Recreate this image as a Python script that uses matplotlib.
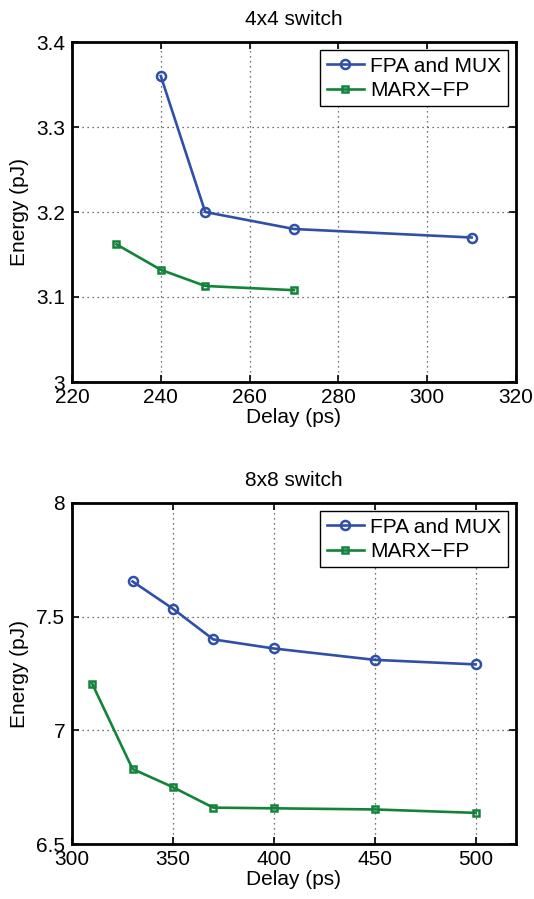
import matplotlib
matplotlib.use('Agg')
import matplotlib.pyplot as plt

plt.rc('font', family=['Liberation Sans', 'DejaVu Sans'], size=15)
plt.rc('axes', linewidth=2.0)

# 4x4 switch
d4_fpa = [240, 250, 270, 310]
e4_fpa = [3.36, 3.20, 3.18, 3.17]
d4_marx = [230, 240, 250, 270]
e4_marx = [3.162, 3.132, 3.113, 3.108]

# 8x8 switch
d8_fpa = [330, 350, 370, 400, 450, 500]
e8_fpa = [7.655, 7.535, 7.40, 7.36, 7.31, 7.29]
d8_marx = [310, 330, 350, 370, 400, 450, 500]
e8_marx = [7.205, 6.83, 6.75, 6.66, 6.657, 6.652, 6.637]

blue = '#3050a8'
green = '#13833a'

fig = plt.figure(figsize=(5.34, 8.99), dpi=100)
ax1 = fig.add_axes([72/534, 1-382/899, 444/534, 340/899])
ax2 = fig.add_axes([72/534, 1-844/899, 444/534, 341/899])

panels = [
    (ax1, d4_fpa, e4_fpa, d4_marx, e4_marx, '4x4 switch',
     (220, 320), range(220, 321, 20), (3.0, 3.4), [3.0, 3.1, 3.2, 3.3, 3.4],
     ['3', '3.1', '3.2', '3.3', '3.4']),
    (ax2, d8_fpa, e8_fpa, d8_marx, e8_marx, '8x8 switch',
     (300, 520), range(300, 501, 50), (6.5, 8.0), [6.5, 7.0, 7.5, 8.0],
     ['6.5', '7', '7.5', '8']),
]

for ax, xf, yf, xm, ym, title, xl, xt, yl, yt, ytl in panels:
    ax.plot(xf, yf, '-o', color=blue, lw=1.9, ms=6.5, mew=1.8, mfc='none', label='FPA and MUX')
    ax.plot(xm, ym, '-s', color=green, lw=1.9, ms=5, mew=1.8, mfc='none', label='MARX\u2212FP')
    ax.set_xlim(*xl)
    ax.set_ylim(*yl)
    ax.set_xticks(list(xt))
    ax.set_yticks(yt)
    ax.set_yticklabels(ytl)
    ax.grid(True, ls=(0, (1, 3)), color='#444444', lw=0.9)
    ax.tick_params(direction='in', top=True, right=True, length=5, width=1.2,
                   labelsize=15)
    ax.tick_params(axis='x', pad=4)
    ax.tick_params(axis='y', pad=5)
    ax.set_xlabel('Delay (ps)', fontsize=15, labelpad=1)
    ax.set_ylabel('Energy (pJ)', fontsize=15, labelpad=5)
    ax.set_title(title, fontsize=15, pad=12)
    leg = ax.legend(loc='upper right', fontsize=15, fancybox=False, edgecolor='black',
                    framealpha=1, handlelength=1.8, borderpad=0.3, labelspacing=0.25,
                    handletextpad=0.3, borderaxespad=0.4)
    leg.get_frame().set_linewidth(1.0)

fig.savefig('out.png', dpi=100)
